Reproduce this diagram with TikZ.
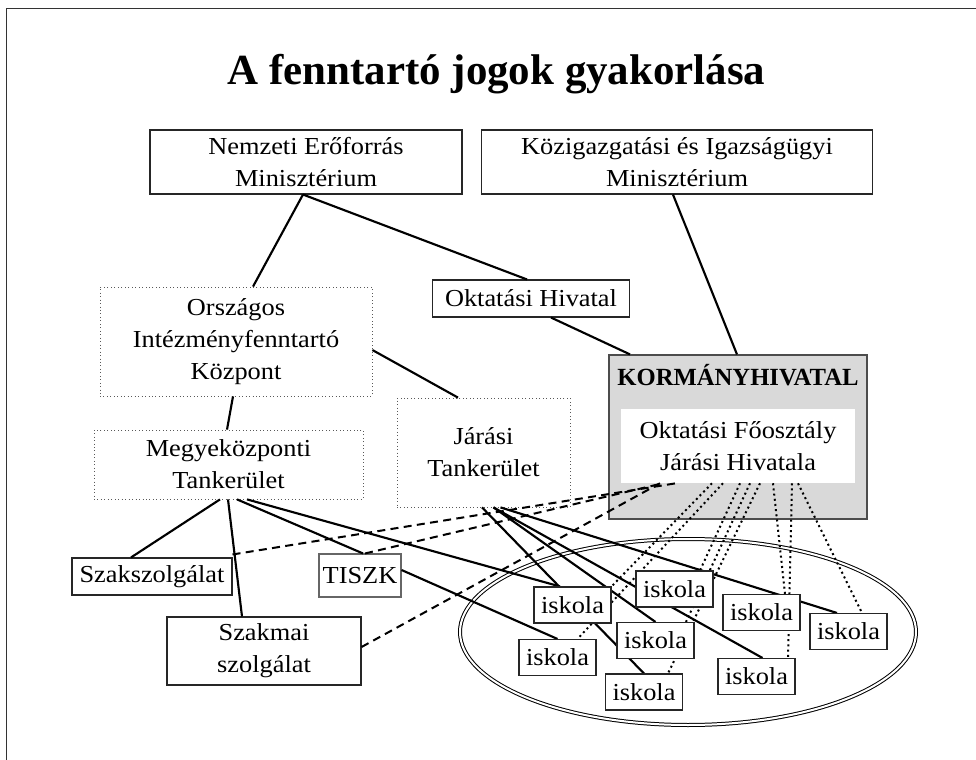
\documentclass[tikz,border=0pt]{standalone}
\usepackage{fontspec}
\setmainfont{Liberation Serif}[FakeStretch=1.08]
\newfontfamily\titlefont{Liberation Serif}
\usetikzlibrary{calc}
\newcommand\mainsz{\fontsize{18.3pt}{24pt}\selectfont}
\pgfdeclarelayer{fg}
\pgfsetlayers{main,fg}
\begin{document}
\begin{tikzpicture}[x=0.75pt,y=-0.75pt,
  box/.style={draw=black!85, line width=0.8pt, fill=white, align=center, inner sep=0pt, font=\mainsz},
  dbox/.style={draw=black!65, dotted, line width=0.6pt, fill=white, align=center, inner sep=0pt, font=\mainsz},
  isk/.style={box, minimum width=57.75pt, minimum height=27pt},
  solidln/.style={line width=1.6pt},
  dashln/.style={line width=1.5pt, dash pattern=on 6pt off 4pt},
  dotln/.style={line width=1.5pt, dash pattern=on 1.5pt off 2.4pt},
]
\useasboundingbox (0,0) rectangle (976,760);
\draw[line width=1pt, black!80] (6.5,760) -- (6.5,8.5) -- (976,8.5);

\node[font=\titlefont\bfseries\fontsize{32.2pt}{36pt}\selectfont, anchor=base] (title) at (496.5,84.5) {A fenntartó jogok gyakorlása};

% ellipse
\draw[double, double distance=1.5pt, line width=0.75pt] (688,632) ellipse [x radius=228, y radius=93];

% boxes
\node[box, minimum width=234pt, minimum height=48pt] (nem) at (306,162) {Nemzeti Erőforrás\\Minisztérium};
\node[box, minimum width=293.25pt, minimum height=48pt] (kim) at (677,162) {Közigazgatási és Igazságügyi\\Minisztérium};
\node[box, minimum width=147.75pt, minimum height=27.75pt] (oh) at (531,298.5) {Oktatási Hivatal};
\node[dbox, minimum width=204pt, minimum height=81.75pt] (oik) at (236,341.5) {Országos\\Intézményfenntartó\\Központ};
\node[dbox, minimum width=201.75pt, minimum height=51.75pt] (mt) at (228.5,464.5) {Megyeközponti\\Tankerület};
\node[dbox, minimum width=129.75pt, minimum height=81.75pt] (jt) at (483.5,452.5) {Járási\\Tankerület};
\node[draw=black!70, line width=0.9pt, fill=black!15, minimum width=193.5pt, minimum height=123pt] (korm) at (738,437) {};
\node[font=\titlefont\bfseries\fontsize{18.5pt}{22pt}\selectfont, anchor=base] (kormlbl) at (738,385) {KORMÁNYHIVATAL};
\node[fill=white, align=center, inner sep=0pt, font=\mainsz, minimum width=175.5pt, minimum height=55.5pt] (ofo) at (738,446) {Oktatási Főosztály\\Járási Hivatala};
\node[box, minimum width=120pt, minimum height=27.75pt] (szk) at (152,576.5) {Szakszolgálat};
\node[box, draw=black!60, minimum width=61.5pt, minimum height=32.25pt] (tiszk) at (360,575.5) {TISZK};
\node[box, minimum width=145.5pt, minimum height=51pt] (szm) at (264,651) {Szakmai\\szolgálat};

\begin{pgfonlayer}{fg}
\node[isk] (isk1) at (572.5,605) {iskola};
\node[isk] (isk2) at (674.5,589) {iskola};
\node[isk] (isk3) at (761.5,612.5) {iskola};
\node[isk] (isk4) at (848.5,631.5) {iskola};
\node[isk] (isk5) at (557.5,657.5) {iskola};
\node[isk] (isk6) at (655.5,640.5) {iskola};
\node[isk] (isk7) at (644,692) {iskola};
\node[isk] (isk8) at (756.5,676.5) {iskola};
\end{pgfonlayer}

% solid connectors
\draw[solidln] ($(nem.south)+(-3,0)$) -- ($(oik.north)+(17,0)$);
\draw[solidln] ($(nem.south)+(-3,0)$) -- ($(oh.north)+(-4,0)$);
\draw[solidln] ($(kim.south)+(-4,0)$) -- ($(korm.north)+(-1,0)$);
\draw[solidln] ($(oh.south)+(20,0)$) -- ($(korm.north)+(-108,0)$);
\draw[solidln] ($(oik.east)+(0,8.5)$) -- ($(jt.north)+(-25.5,0)$);
\draw[solidln] ($(oik.south)+(-3,0)$) -- ($(mt.north)+(-1.5,0)$);
\draw[solidln] ($(mt.south)+(-8.5,0)$) -- ($(szk.north)+(-21,0)$);
\draw[solidln] ($(mt.south)+(-0.5,0)$) -- ($(szm.north)+(-22,0)$);
\draw[solidln] ($(mt.south)+(8.5,0)$) -- ($(tiszk.north)+(3,0)$);
\draw[solidln] ($(mt.south)+(18.5,0)$) -- ($(isk1.north)+(-12.5,0)$);
\draw[solidln] ($(tiszk.east)+(0,-5.5)$) -- (isk5.north);
\draw[solidln] ($(jt.south)+(-1.5,0)$) -- (isk7.north);
\draw[solidln] ($(jt.south)+(10,0)$) -- (isk6.north);
\draw[solidln] ($(jt.south)+(10,0)$) -- ($(isk8.north)+(6,0)$);
\draw[solidln] ($(jt.south)+(17,0)$) -- ($(isk4.north)+(-11.5,0)$);

% dashed connectors
\draw[dashln] ($(szk.north east)+(0,-3)$) -- ($(ofo.south)+(-62,0)$);
\draw[dashln] ($(tiszk.north)+(5,0)$) -- ($(ofo.south)+(-75,0)$);
\draw[dashln] ($(szm.east)+(0,-4)$) -- ($(ofo.south)+(-78,0)$);

% dotted connectors
\draw[dotln] ($(ofo.south)+(-26,0)$) -- ($(isk1.north east)+(-1,1)$);
\draw[dotln] ($(ofo.south)+(-15,0)$) -- ($(isk5.north)+(20,0)$);
\draw[dotln] ($(ofo.south)+(2,0)$) -- ($(isk2.north)+(25.5,0)$);
\draw[dotln] ($(ofo.south)+(12,0)$) -- ($(isk6.north)+(30.5,0)$);
\draw[dotln] ($(ofo.south)+(22,0)$) -- ($(isk7.north)+(24,0)$);
\draw[dotln] ($(ofo.south)+(35,0)$) -- ($(isk3.north)+(23.5,0)$);
\draw[dotln] ($(ofo.south)+(54,0)$) -- ($(isk8.north)+(31.5,0)$);
\draw[dotln] ($(ofo.south)+(60,0)$) -- ($(isk4.north)+(13.5,0)$);
\end{tikzpicture}
\end{document}
